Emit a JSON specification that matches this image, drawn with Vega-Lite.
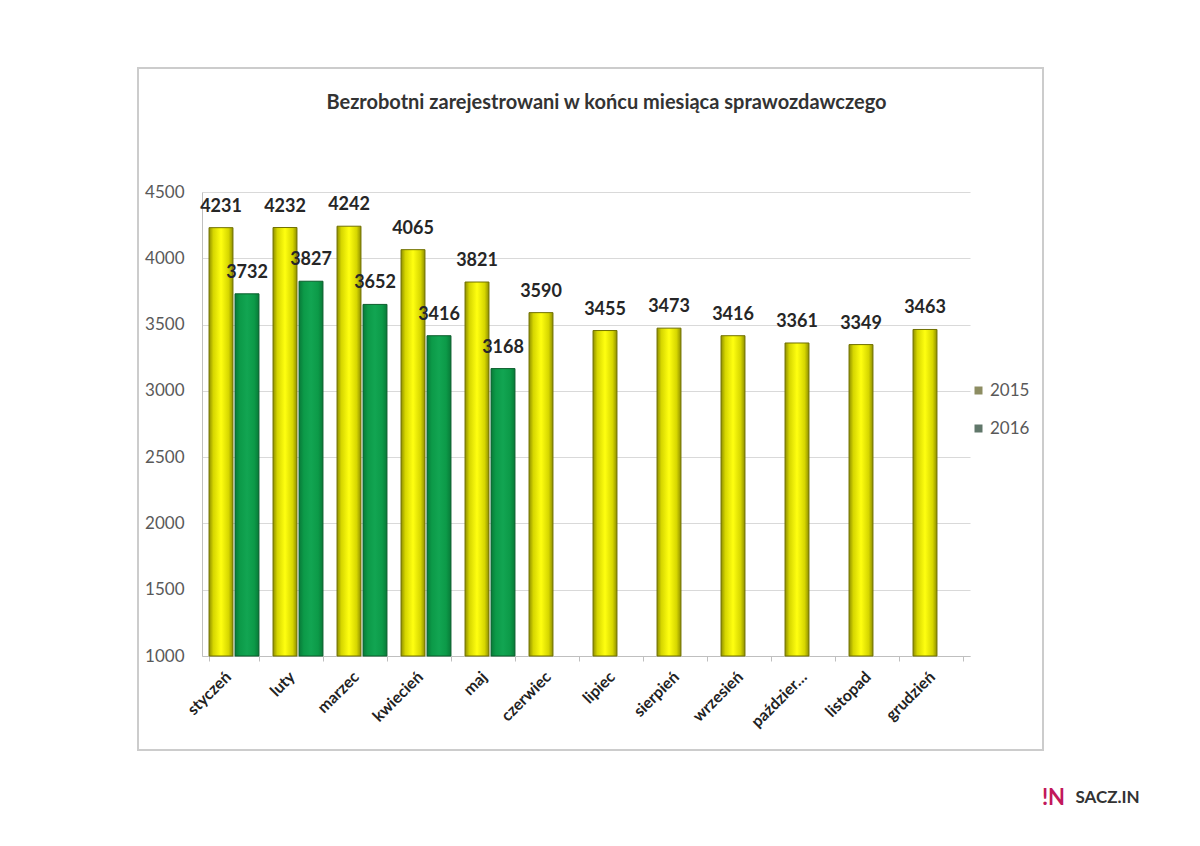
{
  "$schema": "https://vega.github.io/schema/vega-lite/v6.json",
  "width": 905,
  "height": 682,
  "autosize": {"type": "none"},
  "padding": {"left": 138, "top": 68, "right": 157, "bottom": 96},
  "background": "white",
  "config": {
    "view": {"stroke": "#cccccc", "strokeWidth": 2},
    "font": "Lato"
  },
  "title": {
    "text": "Bezrobotni zarejestrowani w końcu miesiąca sprawozdawczego",
    "anchor": "middle",
    "offset": -61,
    "baseline": "alphabetic",
    "dx": 16,
    "font": "Lato",
    "fontSize": 20,
    "fontWeight": "bold",
    "color": "#333333"
  },
  "data": {
    "values": [
      {"month": "styczeń", "year": "2015", "value": 4231},
      {"month": "luty", "year": "2015", "value": 4232},
      {"month": "marzec", "year": "2015", "value": 4242},
      {"month": "kwiecień", "year": "2015", "value": 4065},
      {"month": "maj", "year": "2015", "value": 3821},
      {"month": "czerwiec", "year": "2015", "value": 3590},
      {"month": "lipiec", "year": "2015", "value": 3455},
      {"month": "sierpień", "year": "2015", "value": 3473},
      {"month": "wrzesień", "year": "2015", "value": 3416},
      {"month": "październik", "year": "2015", "value": 3361},
      {"month": "listopad", "year": "2015", "value": 3349},
      {"month": "grudzień", "year": "2015", "value": 3463},
      {"month": "styczeń", "year": "2016", "value": 3732},
      {"month": "luty", "year": "2016", "value": 3827},
      {"month": "marzec", "year": "2016", "value": 3652},
      {"month": "kwiecień", "year": "2016", "value": 3416},
      {"month": "maj", "year": "2016", "value": 3168}
    ]
  },
  "encoding": {
    "x": {
      "field": "month",
      "type": "nominal",
      "sort": ["styczeń", "luty", "marzec", "kwiecień", "maj", "czerwiec", "lipiec", "sierpień", "wrzesień", "październik", "listopad", "grudzień"],
      "scale": {"range": [64, 832], "paddingInner": 0.22, "paddingOuter": 0.11},
      "axis": {
        "offset": -94,
        "tickBand": "extent",
        "domainColor": "#bfbfbf",
        "tickColor": "#bfbfbf",
        "tickSize": 5,
        "labelAngle": -45,
        "labelAlign": "right",
        "labelBaseline": "middle",
        "labelOffset": -6,
        "labelFont": "Lato",
        "labelFontSize": 16,
        "labelFontWeight": "bold",
        "labelColor": "#222222",
        "labelPadding": 13,
        "labelExpr": "datum.label == 'październik' ? 'paździer…' : datum.label",
        "title": "SACZ.IN",
        "titleX": 969,
        "titleY": 141,
        "titleAlign": "center",
        "titleBaseline": "middle",
        "titleFont": "Lato",
        "titleFontSize": 17,
        "titleFontWeight": "bold",
        "titleColor": "#333333"
      }
    },
    "xOffset": {"field": "year", "type": "nominal", "scale": {"paddingInner": 0.08}},
    "y": {
      "field": "value",
      "type": "quantitative",
      "scale": {"domain": [1000, 4500], "range": [588, 124], "zero": false, "nice": false, "clamp": true},
      "axis": {
        "offset": -64,
        "values": [1000, 1500, 2000, 2500, 3000, 3500, 4000, 4500],
        "format": "d",
        "ticks": false,
        "domainColor": "#bfbfbf",
        "grid": true,
        "gridColor": "#d9d9d9",
        "labelFont": "Lato",
        "labelFontSize": 17,
        "labelColor": "#595959",
        "labelPadding": 18,
        "title": "!N",
        "titleAngle": 0,
        "titleX": 851,
        "titleY": 729,
        "titleAlign": "center",
        "titleBaseline": "middle",
        "titleFont": "Lato",
        "titleFontSize": 22,
        "titleFontWeight": "bold",
        "titleColor": "#c2185b"
      }
    }
  },
  "layer": [
    {
      "transform": [{"filter": "datum.year == '2015'"}],
      "mark": {
        "type": "bar",
        "stroke": "#707000",
        "strokeWidth": 1,
        "fill": {
          "gradient": "linear", "x1": 0, "x2": 1, "y1": 0, "y2": 0,
          "stops": [
            {"offset": 0, "color": "#8f8f00"},
            {"offset": 0.18, "color": "#d6d600"},
            {"offset": 0.5, "color": "#ffff10"},
            {"offset": 0.82, "color": "#d6d600"},
            {"offset": 1, "color": "#8f8f00"}
          ]
        }
      }
    },
    {
      "transform": [{"filter": "datum.year == '2016'"}],
      "mark": {
        "type": "bar",
        "stroke": "#0b5e2c",
        "strokeWidth": 1,
        "fill": {
          "gradient": "linear", "x1": 0, "x2": 1, "y1": 0, "y2": 0,
          "stops": [
            {"offset": 0, "color": "#087a38"},
            {"offset": 0.2, "color": "#0c9a48"},
            {"offset": 0.5, "color": "#12a552"},
            {"offset": 0.8, "color": "#0c9a48"},
            {"offset": 1, "color": "#087a38"}
          ]
        }
      }
    },
    {
      "mark": {"type": "text", "dy": -21, "font": "Lato", "fontSize": 18, "fontWeight": "bold", "fill": "#262626", "baseline": "middle"},
      "encoding": {"text": {"field": "value", "type": "quantitative", "format": "d"}}
    },
    {
      "mark": {"type": "square", "size": 0, "strokeWidth": 0},
      "encoding": {
        "color": {
          "field": "year",
          "type": "nominal",
          "scale": {"domain": ["2015", "2016"], "range": ["#5c5c1f", "#1d3d2b"]},
          "legend": {
            "orient": "none",
            "legendX": 832,
            "legendY": 314,
            "title": null,
            "labelFont": "Lato",
            "labelFontSize": 17,
            "labelColor": "#595959",
            "symbolType": "square",
            "symbolSize": 64,
            "symbolStrokeWidth": 0,
            "rowPadding": 20,
            "labelOffset": 3
          }
        }
      }
    }
  ]
}
